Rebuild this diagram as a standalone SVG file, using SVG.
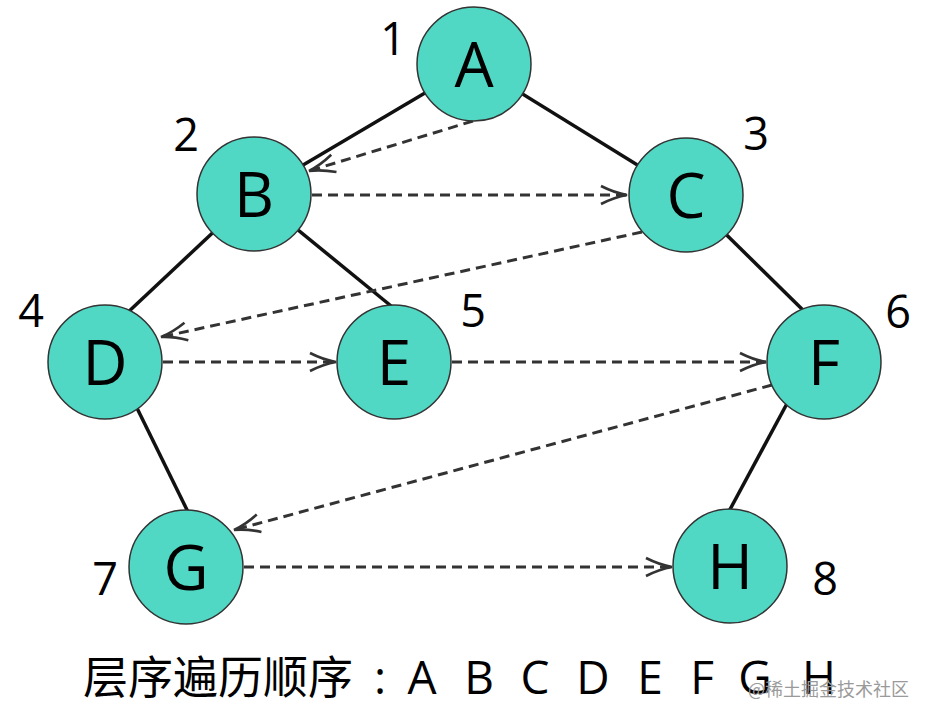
<svg xmlns="http://www.w3.org/2000/svg" width="929" height="720" viewBox="0 0 929 720">
<style>
.edge{stroke:#111;stroke-width:3.5;fill:none}
.dash{stroke:#333;stroke-width:3;stroke-dasharray:10 6;fill:none;marker-end:url(#arr)}
.node circle{fill:#50D8C4;stroke:#333;stroke-width:1.5}
.node text{font-family:"Open Sans","DejaVu Sans",sans-serif;font-size:62px;fill:#000;text-anchor:middle}
.num{font-family:"Open Sans","DejaVu Sans",sans-serif;font-size:45px;fill:#000;text-anchor:middle}
.cap{font-family:"Open Sans","Noto Sans CJK SC",sans-serif;font-size:46px;fill:#000}
.cjk{font-family:"Noto Sans CJK SC",sans-serif;font-size:45px;fill:#000}
.wm{font-family:"Noto Sans CJK SC",sans-serif;font-size:18px;fill:#9a9a9a}
</style>
<defs>
<marker id="arr" viewBox="0 0 30 22" markerWidth="30" markerHeight="22" refX="28" refY="11" orient="auto" markerUnits="userSpaceOnUse">
<path d="M2,2 Q16,9 28,11 Q16,13 2,20" fill="none" stroke="#333" stroke-width="2.6"/>
</marker>
</defs>
<rect width="929" height="720" fill="#fff"/>
<g id="connectors">
<line class="edge" x1="474" y1="64" x2="254" y2="194"/>
<line class="edge" x1="474" y1="64" x2="686" y2="195"/>
<line class="edge" x1="254" y1="194" x2="125" y2="315"/>
<line class="edge" x1="254" y1="194" x2="396" y2="310"/>
<line class="edge" x1="686" y1="195" x2="808" y2="315"/>
<line class="edge" x1="134" y1="402" x2="190" y2="516"/>
<line class="edge" x1="790" y1="398" x2="727" y2="515"/>
<path class="dash" d="M473,121 L309,171"/>
<path class="dash" d="M312,195 L627,195"/>
<path class="dash" d="M642,232 L161,337"/>
<path class="dash" d="M163,362 L336,362"/>
<path class="dash" d="M452,362 L766,362"/>
<path class="dash" d="M772,385 L234,530"/>
<path class="dash" d="M244,567 L672,567"/>
</g>
<g id="A" class="node"><circle cx="474" cy="64" r="57"/><text x="474" y="87">A</text></g>
<g id="B" class="node"><circle cx="254" cy="194" r="57"/><text x="254" y="217">B</text></g>
<g id="C" class="node"><circle cx="686" cy="195" r="57"/><text x="686" y="218">C</text></g>
<g id="D" class="node"><circle cx="105" cy="362" r="57"/><text x="105" y="385">D</text></g>
<g id="E" class="node"><circle cx="394" cy="362" r="57"/><text x="394" y="385">E</text></g>
<g id="F" class="node"><circle cx="824" cy="362" r="57"/><text x="824" y="385">F</text></g>
<g id="G" class="node"><circle cx="186" cy="567" r="57"/><text x="186" y="590">G</text></g>
<g id="H" class="node"><circle cx="730" cy="566" r="57"/><text x="730" y="589">H</text></g>
<g id="labels">
<text class="num" x="393" y="55">1</text>
<text class="num" x="186" y="151">2</text>
<text class="num" x="756" y="150">3</text>
<text class="num" x="31" y="327">4</text>
<text class="num" x="473" y="327">5</text>
<text class="num" x="898" y="328">6</text>
<text class="num" x="105" y="595">7</text>
<text class="num" x="825" y="595">8</text>
</g>
<g id="caption">
<text class="cjk" x="83" y="694">层序遍历顺序</text>
<text class="cap" y="694" text-anchor="middle"><tspan x="380">:</tspan><tspan x="422">A</tspan><tspan x="479">B</tspan><tspan x="535">C</tspan><tspan x="593">D</tspan><tspan x="650">E</tspan><tspan x="702">F</tspan><tspan x="755">G</tspan><tspan x="819">H</tspan></text>
<text class="wm" x="748" y="696">@稀土掘金技术社区</text>
</g>
</svg>
